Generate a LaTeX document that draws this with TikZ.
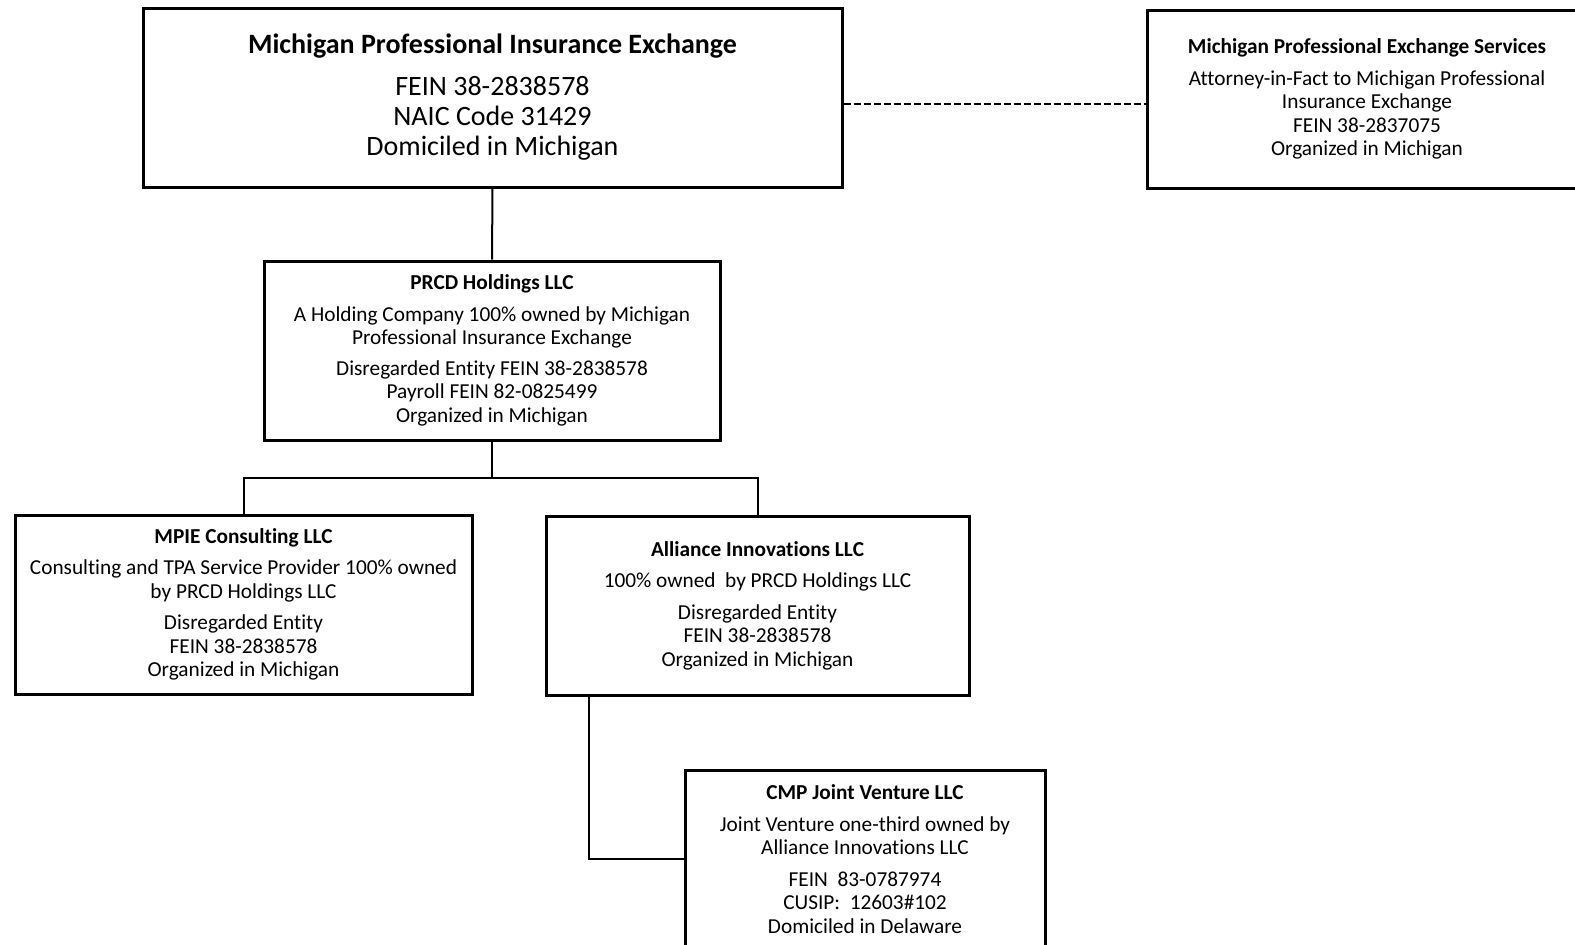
\documentclass[tikz,border=0pt]{standalone}
\usepackage{fontspec}
\setmainfont{Carlito}[Ligatures=CommonOff]
\tikzset{
  orgbox/.style={draw, line width=3pt, align=center, inner sep=0pt,
    font=\fontsize{21.3}{23.5}\selectfont},
  bigbox/.style={draw, line width=3pt, align=center, inner sep=0pt,
    font=\fontsize{28}{30}\selectfont},
  link/.style={line width=2pt},
  dlink/.style={line width=2pt, dash pattern=on 7pt off 3pt}
}
\begin{document}
\begin{tikzpicture}[x=1pt,y=-1pt]
\useasboundingbox (0,0) rectangle (1575,945);
\node[bigbox, minimum width=699pt, minimum height=179pt] (mpie) at (492.5,97.5)
  {\textbf{Michigan Professional Insurance Exchange}\\[12pt]FEIN 38-2838578\\NAIC Code 31429\\Domiciled in Michigan};
\node[orgbox, minimum width=440pt, minimum height=178pt] (mpes) at (1367,99)
  {\textbf{Michigan Professional Exchange Services}\\[8pt]Attorney-in-Fact to Michigan Professional\\Insurance Exchange\\FEIN 38-2837075\\Organized in Michigan};
\node[orgbox, minimum width=456pt, minimum height=179pt] (prcd) at (492,350.5)
  {\textbf{PRCD Holdings LLC}\\[8pt]A Holding Company 100\% owned by Michigan\\Professional Insurance Exchange\\[7pt]Disregarded Entity FEIN 38-2838578\\Payroll FEIN 82-0825499\\Organized in Michigan};
\node[orgbox, minimum width=457pt, minimum height=179pt] (cons) at (243.5,604.5)
  {\textbf{MPIE Consulting LLC}\\[8pt]Consulting and TPA Service Provider 100\% owned\\by PRCD Holdings LLC\\[8pt]Disregarded Entity\\FEIN 38-2838578\\Organized in Michigan};
\node[orgbox, minimum width=423pt, minimum height=179pt] (alli) at (757.5,605.5)
  {\textbf{Alliance Innovations LLC}\\[8pt]100\% owned\ \ by PRCD Holdings LLC\\[8pt]Disregarded Entity\\FEIN 38-2838578\\Organized in Michigan};
\node[orgbox, minimum width=360pt, minimum height=178pt] (cmp) at (865,859)
  {\textbf{CMP Joint Venture LLC}\\[8pt]Joint Venture one-third owned by\\Alliance Innovations LLC\\[8pt]FEIN\ \ 83-0787974\\CUSIP:\ \ 12603\#102\\Domiciled in Delaware};
\coordinate (dash) at (990,104);
\coordinate (split) at (492,478);
\coordinate (jv) at (589,859);
\draw[dlink] (mpie.east |- dash) -- (mpes.west |- dash);
\draw[link] (mpie.south) -- (prcd.north);
\draw[link] (prcd.south) -- (split);
\draw[link] (split) -| (cons.north);
\draw[link] (split) -| (alli.north);
\draw[link] (alli.south -| jv) -- (jv) -- (cmp.west);
\end{tikzpicture}
\end{document}
